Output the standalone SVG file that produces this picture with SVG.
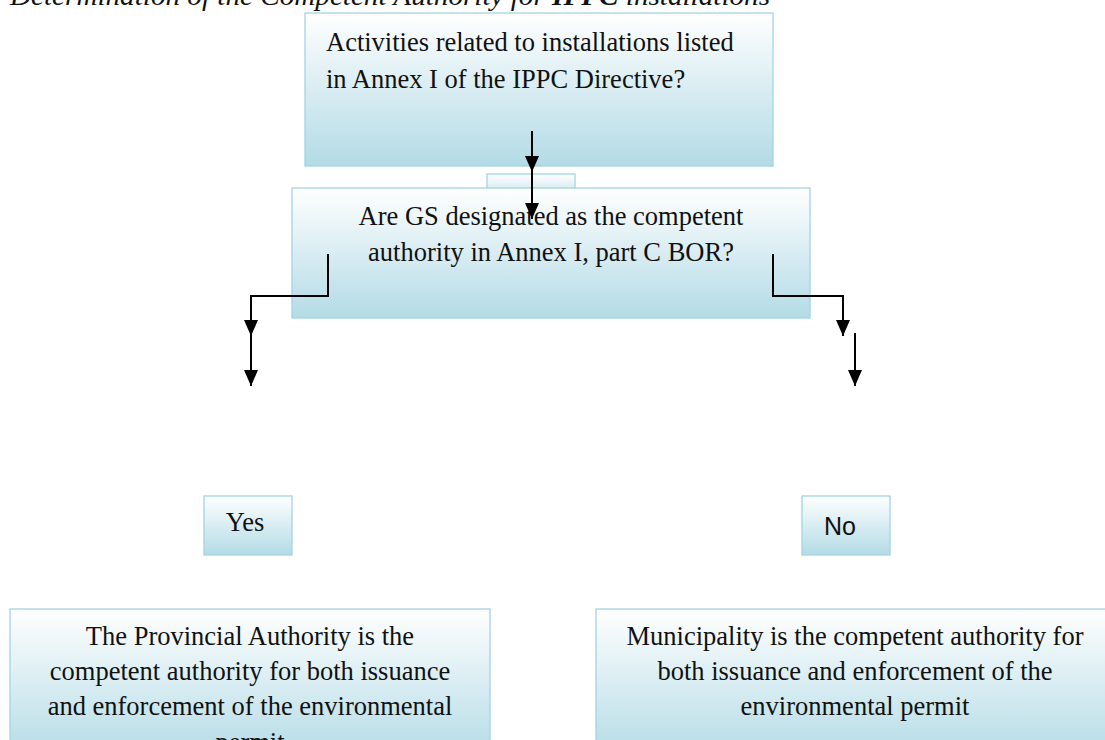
<svg xmlns="http://www.w3.org/2000/svg" width="1105" height="740" viewBox="0 0 1105 740">
  <defs>
    <linearGradient id="boxFill" x1="0" y1="0" x2="0" y2="1">
      <stop offset="0" stop-color="#ffffff"/>
      <stop offset="0.35" stop-color="#e4f2f6"/>
      <stop offset="1" stop-color="#b3dbe6"/>
    </linearGradient>
    <marker id="head" viewBox="0 0 16 14" refX="16" refY="7" markerWidth="16" markerHeight="14" markerUnits="userSpaceOnUse" orient="auto">
      <path d="M0,0 L16,7 L0,14 Z" fill="#000"/>
    </marker>
  </defs>
  <style>
    .box { fill: url(#boxFill); stroke: #a3d4e1; stroke-width: 1.3; }
    .serif { font-family: "Liberation Serif", "Times New Roman", serif; font-size: 26.5px; fill: #111; }
    .sans { font-family: "Liberation Sans", Arial, sans-serif; font-size: 25px; fill: #111; }
    .wire { fill: none; stroke: #000; stroke-width: 2; }
  </style>

  <rect width="1105" height="740" fill="#ffffff"/>

  <text x="10" y="5" class="serif" font-style="italic" font-size="30" textLength="760" lengthAdjust="spacingAndGlyphs">Determination of the Competent Authority for <tspan font-weight="bold">IPPC</tspan> installations</text>

  <g id="node-activities">
    <rect class="box" x="305" y="13" width="468" height="153"/>
    <text class="serif" x="326" y="51">Activities related to installations listed</text>
    <text class="serif" x="326" y="88">in Annex I of the IPPC Directive?</text>
  </g>

  <g id="node-tab">
    <rect class="box" x="487" y="174" width="88" height="30"/>
  </g>

  <g id="node-question">
    <rect class="box" x="292" y="188" width="518" height="130"/>
    <text class="serif" x="551" y="225" text-anchor="middle">Are GS designated as the competent</text>
    <text class="serif" x="551" y="261" text-anchor="middle">authority in Annex I, part C BOR?</text>
  </g>

  <g id="node-yes">
    <rect class="box" x="204" y="496" width="88" height="59"/>
    <text class="serif" x="245" y="531" text-anchor="middle">Yes</text>
  </g>

  <g id="node-no">
    <rect class="box" x="802" y="496" width="88" height="59"/>
    <text class="sans" x="840" y="535" text-anchor="middle">No</text>
  </g>

  <g id="node-provincial">
    <rect class="box" x="10" y="609" width="480" height="150"/>
    <text class="serif" x="250" y="645" text-anchor="middle">The Provincial Authority is the</text>
    <text class="serif" x="250" y="680" text-anchor="middle">competent authority for both issuance</text>
    <text class="serif" x="250" y="715" text-anchor="middle">and enforcement of the environmental</text>
    <text class="serif" x="250" y="751" text-anchor="middle">permit</text>
  </g>

  <g id="node-municipality">
    <rect class="box" x="596" y="609" width="520" height="150"/>
    <text class="serif" x="855" y="645" text-anchor="middle">Municipality is the competent authority for</text>
    <text class="serif" x="855" y="680" text-anchor="middle">both issuance and enforcement of the</text>
    <text class="serif" x="855" y="715" text-anchor="middle">environmental permit</text>
  </g>

  <g id="connectors">
    <path class="wire" d="M532,131 L532,172" marker-end="url(#head)"/>
    <path class="wire" d="M532,172 L532,219" marker-end="url(#head)"/>
    <path class="wire" d="M328,254 L328,296 L251,296 L251,336" marker-end="url(#head)"/>
    <path class="wire" d="M251,336 L251,386" marker-end="url(#head)"/>
    <path class="wire" d="M773,254 L773,296 L843,296 L843,336" marker-end="url(#head)"/>
    <path class="wire" d="M855,333 L855,386" marker-end="url(#head)"/>
  </g>
</svg>
